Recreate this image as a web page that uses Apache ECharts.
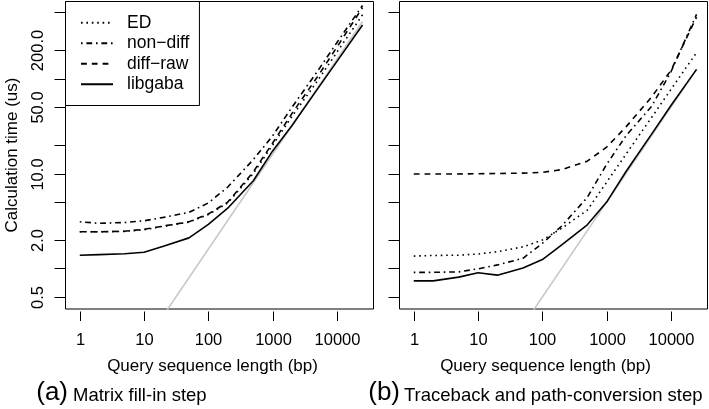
<!DOCTYPE html>
<html><head><meta charset="utf-8">
<script src="https://cdn.jsdelivr.net/npm/echarts@6/dist/echarts.min.js"></script>
<style>html,body{margin:0;padding:0;background:#fff}#c{width:709px;height:409px}</style>
</head><body><div id="c"></div>
<script>
// ---- data ----
const xValues = [1, 2, 5, 10, 20, 50, 100, 200, 500, 1000, 2000, 5000, 10000, 25000];
const seriesNames = ['ED', 'non\u2212diff', 'diff\u2212raw', 'libgaba'];

// (a) Matrix fill-in step
const fillED      = [2.44, 2.43, 2.46, 2.56, 2.78, 3.08, 3.7, 4.9, 10, 20, 40, 95, 190, 470];
const fillNonDiff = [3.10, 2.99, 3.05, 3.18, 3.45, 3.9, 4.9, 7.2, 14, 25, 50, 120, 240, 590];
const fillDiffRaw = [2.44, 2.43, 2.47, 2.58, 2.80, 3.10, 3.75, 5.0, 10.4, 21, 43, 105, 215, 560];
const fillLibgaba = [1.38, 1.40, 1.43, 1.48, 1.71, 2.10, 2.91, 4.31, 8.4, 17.3, 32, 78, 152, 367];
const fillGray    = [[22.5, 0.36], [25000, 400]];

// (b) Traceback and path-conversion step
const traceED      = [1.35, 1.37, 1.38, 1.42, 1.50, 1.69, 1.99, 2.65, 4.12, 8.1, 16, 39, 77, 188];
const traceNonDiff = [0.91, 0.91, 0.92, 0.99, 1.09, 1.28, 1.84, 2.80, 5.6, 12.5, 25, 51, 118, 475];
const traceDiffRaw = [9.9, 9.9, 9.9, 9.95, 10.0, 10.1, 10.3, 11.0, 13.5, 19, 31, 64, 122, 445];
const traceLibgaba = [0.74, 0.74, 0.81, 0.90, 0.85, 1.01, 1.24, 1.77, 2.88, 5.0, 10.5, 26, 52, 125];
const traceGray    = [[72, 0.36], [25000, 125]];

// ticks
const xTicks = [1, 10, 100, 1000, 10000];
const xTickLabels = ['1', '10', '100', '1000', '10000'];
const yTicks = [0.5, 1, 2, 5, 10, 20, 50, 100, 200, 500];
const yLabelValues = [0.5, 2, 10, 50, 200];
const yLabelTexts = ['0.5', '2.0', '10.0', '50.0', '200.0'];

const xTitle = 'Query sequence length (bp)';
const yTitle = 'Calculation time (us)';
const captions = [['(a)', 'Matrix fill-in step'], ['(b)', 'Traceback and path-conversion step']];

// ---- chart ----
const FONT = '"Liberation Sans", Arial, Helvetica, sans-serif';
const chart = echarts.init(document.getElementById('c'), null, {renderer: 'canvas'});

const LW = 1.6;
const styles = [
  {type: [1.6, 3.8]},            // ED dotted
  {type: [1.6, 3.8, 5.8, 3.8]},  // non-diff dash-dot
  {type: [5.8, 5.0]},            // diff-raw dashed
  {type: 'solid'}                // libgaba
];

const panels = [
  {data: [fillED, fillNonDiff, fillDiffRaw, fillLibgaba], gray: fillGray},
  {data: [traceED, traceNonDiff, traceDiffRaw, traceLibgaba], gray: traceGray}
];

const series = [];
panels.forEach((p, gi) => {
  series.push({
    type: 'line', xAxisIndex: gi, yAxisIndex: gi, data: p.gray, symbol: 'none',
    lineStyle: {color: '#c8c8c8', width: 1.6}, z: 1, silent: true
  });
  p.data.forEach((arr, si) => {
    series.push({
      name: seriesNames[si], type: 'line', xAxisIndex: gi, yAxisIndex: gi,
      data: xValues.map((x, i) => [x, arr[i]]), symbol: 'none', color: '#000',
      itemStyle: {color: '#000'},
      lineStyle: {color: '#000', width: LW, type: styles[si].type, cap: 'butt'},
      z: 3, silent: true
    });
  });
  // x ticks + labels
  series.push({
    type: 'custom', xAxisIndex: gi, yAxisIndex: gi, silent: true, clip: false, z: 5,
    data: xTicks.map((v, i) => [v, 1, i]), encode: {x: 0, y: 1},
    renderItem: function (params, api) {
      const cs = params.coordSys;
      const px = Math.round(api.coord([api.value(0), api.value(1)])[0]) + 0.5;
      const b = cs.y + cs.height;
      const i = api.value(2);
      return {type: 'group', children: [
        {type: 'line', shape: {x1: px, y1: b + 2.5, x2: px, y2: b + 12}, style: {stroke: '#000', lineWidth: 1}},
        {type: 'text', x: px, y: b + 31, style: {text: xTickLabels[i], font: '16.5px ' + FONT, fill: '#000', align: 'center', verticalAlign: 'middle'}}
      ]};
    }
  });
  // y ticks (+ labels on first panel)
  series.push({
    type: 'custom', xAxisIndex: gi, yAxisIndex: gi, silent: true, clip: false, z: 5,
    data: yTicks.map(v => [1, v]), encode: {x: 0, y: 1},
    renderItem: function (params, api) {
      const cs = params.coordSys;
      const v = api.value(1);
      const py = Math.round(api.coord([api.value(0), v])[1]) + 0.5;
      const children = [{type: 'line', shape: {x1: cs.x - 11, y1: py, x2: cs.x, y2: py}, style: {stroke: '#000', lineWidth: 1}}];
      const li = yLabelValues.indexOf(v);
      if (gi === 0 && li >= 0) {
        children.push({type: 'text', x: cs.x - 27, y: py, rotation: Math.PI / 2,
          style: {text: yLabelTexts[li], font: '16.5px ' + FONT, fill: '#000', align: 'center', verticalAlign: 'middle'}});
      }
      return {type: 'group', children: children};
    }
  });
});

const gridW = 308, gridH = 307.5;
const grids = [{left: 65.5, top: 1.5}, {left: 399.5, top: 1.5}].map(g => ({
  left: g.left, top: g.top, width: gridW, height: gridH, show: true,
  borderColor: '#000', borderWidth: 1, backgroundColor: 'transparent', containLabel: false
}));

const axisCommon = {axisLine: {show: false}, axisTick: {show: false}, axisLabel: {show: false}, splitLine: {show: false}};
const xAxes = [0, 1].map(gi => Object.assign({type: 'log', logBase: 10, gridIndex: gi, min: 0.6, max: 37000}, axisCommon));
const yAxes = [0, 1].map(gi => Object.assign({type: 'log', logBase: 10, gridIndex: gi, min: 0.374, max: 649}, axisCommon));

const graphics = [
  {type: 'text', x: 12.5, y: 155, rotation: Math.PI / 2, style: {text: yTitle, font: '17px ' + FONT, fill: '#000', align: 'center', verticalAlign: 'middle'}},
  {type: 'text', x: 212.5, y: 366, style: {text: xTitle, font: '17px ' + FONT, fill: '#000', align: 'center', verticalAlign: 'middle'}},
  {type: 'text', x: 545.5, y: 366, style: {text: xTitle, font: '17px ' + FONT, fill: '#000', align: 'center', verticalAlign: 'middle'}},
  {type: 'text', x: 68, y: 393, style: {text: captions[0][0], font: '26px ' + FONT, fill: '#000', align: 'right', verticalAlign: 'middle'}},
  {type: 'text', x: 73, y: 396, style: {text: captions[0][1], font: '18.5px ' + FONT, fill: '#000', align: 'left', verticalAlign: 'middle'}},
  {type: 'text', x: 400, y: 393, style: {text: captions[1][0], font: '26px ' + FONT, fill: '#000', align: 'right', verticalAlign: 'middle'}},
  {type: 'text', x: 404, y: 396, style: {text: captions[1][1], font: '18.5px ' + FONT, fill: '#000', align: 'left', verticalAlign: 'middle'}}
];

chart.setOption({
  animation: false,
  backgroundColor: '#fff',
  grid: grids,
  xAxis: xAxes,
  yAxis: yAxes,
  legend: {
    data: seriesNames, orient: 'vertical', left: 65.5, top: 1.5,
    itemWidth: 32, itemHeight: 20.5, itemGap: 0,
    padding: [11, 10, 11, 14.5],
    borderColor: '#000', borderWidth: 1, backgroundColor: '#fff',
    selectedMode: false,
    itemStyle: {color: 'rgba(0,0,0,0)', borderColor: 'rgba(0,0,0,0)', borderWidth: 0, opacity: 0},
    textStyle: {fontFamily: FONT, fontSize: 17.5, color: '#000', lineHeight: 20.5, padding: [0, 0, 0, 9]}
  },
  series: series,
  graphic: graphics
});
</script>
</body></html>
